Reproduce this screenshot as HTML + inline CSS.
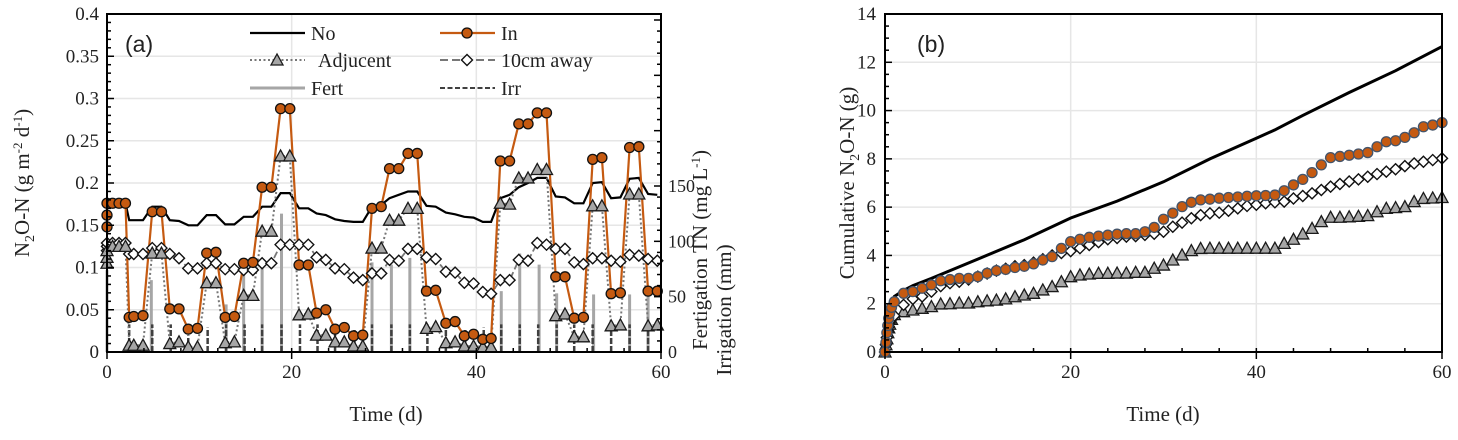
<!DOCTYPE html>
<html><head><meta charset="utf-8"><style>
html,body{margin:0;padding:0;background:#fff;}
svg{display:block;}
text{font-family:"Liberation Serif",serif;fill:#222;}
.ar{font-family:"Liberation Sans",sans-serif;}
</style></head><body>
<svg id="c" width="1458" height="440" viewBox="0 0 1458 440" xmlns="http://www.w3.org/2000/svg"></svg>
<script>
// ---------- Panel (a) data ----------
const aDays=[0,0,0,0.6,1.3,2.0,2.4,2.9,3.9,4.9,5.9,6.8,7.8,8.8,9.8,10.8,11.8,12.8,13.8,14.8,15.8,16.8,17.8,18.8,19.8,20.8,21.8,22.7,23.7,24.7,25.7,26.7,27.7,28.7,29.7,30.6,31.6,32.6,33.6,34.6,35.6,36.7,37.7,38.7,39.7,40.7,41.6,42.6,43.6,44.6,45.6,46.6,47.6,48.6,49.6,50.6,51.6,52.6,53.6,54.6,55.6,56.6,57.6,58.6,59.6];
const aNo=[0.176,0.176,0.176,0.176,0.176,0.176,0.156,0.156,0.156,0.172,0.172,0.156,0.155,0.15,0.15,0.162,0.162,0.151,0.151,0.16,0.16,0.172,0.172,0.188,0.188,0.17,0.17,0.164,0.162,0.157,0.155,0.154,0.154,0.172,0.174,0.182,0.186,0.19,0.19,0.173,0.172,0.165,0.163,0.16,0.159,0.154,0.154,0.182,0.186,0.195,0.2,0.206,0.206,0.184,0.183,0.176,0.176,0.2,0.201,0.182,0.183,0.205,0.206,0.187,0.186];
const aIn=[0.148,0.162,0.176,0.176,0.176,0.176,0.041,0.042,0.043,0.166,0.166,0.051,0.051,0.027,0.028,0.117,0.118,0.041,0.042,0.105,0.106,0.195,0.195,0.288,0.288,0.103,0.103,0.046,0.05,0.027,0.029,0.019,0.02,0.17,0.172,0.217,0.217,0.235,0.235,0.072,0.073,0.034,0.036,0.019,0.021,0.015,0.016,0.226,0.226,0.27,0.27,0.283,0.283,0.089,0.089,0.04,0.041,0.228,0.23,0.069,0.07,0.242,0.243,0.072,0.072];
const aAdj=[0.105,0.112,0.12,0.125,0.125,0.125,0.008,0.008,0.008,0.117,0.117,0.01,0.012,0.006,0.006,0.082,0.082,0.011,0.012,0.067,0.067,0.143,0.143,0.232,0.232,0.044,0.045,0.02,0.02,0.012,0.012,0.007,0.007,0.123,0.123,0.156,0.156,0.17,0.17,0.028,0.03,0.011,0.012,0.007,0.007,0.006,0.006,0.176,0.175,0.206,0.206,0.216,0.216,0.043,0.045,0.018,0.018,0.173,0.173,0.031,0.032,0.187,0.187,0.031,0.032];
const aAway=[0.12,0.125,0.129,0.129,0.129,0.129,0.116,0.116,0.116,0.123,0.123,0.116,0.111,0.099,0.099,0.105,0.105,0.098,0.098,0.097,0.097,0.105,0.105,0.127,0.127,0.127,0.127,0.112,0.109,0.099,0.098,0.088,0.085,0.093,0.093,0.109,0.108,0.122,0.122,0.112,0.11,0.095,0.094,0.082,0.081,0.071,0.069,0.085,0.085,0.109,0.108,0.129,0.127,0.122,0.122,0.106,0.104,0.111,0.111,0.108,0.107,0.115,0.114,0.11,0.108];
const fertDays=[0,4.8,12.9,14.8,16.8,18.9,28.7,30.8,32.8,42.7,44.7,46.8,48.7,52.7,56.6,58.6];
const fertVals=[74,65,43,81,81,125,81,79,85,55,89,79,53,52,52,52];
const irrDays=[2.4,4.9,6.9,8.8,10.9,12.9,14.9,16.8,18.9,20.9,22.8,24.7,26.8,28.7,30.8,32.8,34.7,36.7,38.8,40.8,42.7,44.7,46.7,48.7,50.6,52.6,54.6,56.6,58.6];
const irrVals=[25,25,25,15,22,25,25,25,25,25,25,25,20,25,25,25,25,25,20,22,25,25,25,25,25,25,25,25,25];
const aYTicks=["0","0.05","0.1","0.15","0.2","0.25","0.3","0.35","0.4"];
const aRTicks=["0","50","100","150"];
const xTicks=["0","20","40","60"];
// ---------- Panel (b) data ----------
const bNoDays=[0,0.25,0.5,1,2,3,5,10,15,20,25,30,35,40,42,45,50,55,60];
const bNo=[0,1.2,1.8,2.3,2.55,2.75,3.05,3.85,4.65,5.55,6.25,7.05,8.0,8.85,9.2,9.8,10.75,11.65,12.65];
const bDays=[0,0.1,0.2,0.3,0.4,0.5,0.7,1,2,3,4,5,6,7,8,9,10,11,12,13,14,15,16,17,18,19,20,21,22,23,24,25,26,27,28,29,30,31,32,33,34,35,36,37,38,39,40,41,42,43,44,45,46,47,48,49,50,51,52,53,54,55,56,57,58,59,60];
const bIn=[0,0.4,0.8,1.1,1.4,1.6,1.85,2.08,2.43,2.5,2.64,2.78,2.95,3.0,3.05,3.05,3.12,3.26,3.37,3.42,3.5,3.55,3.65,3.81,3.95,4.29,4.57,4.67,4.75,4.8,4.84,4.88,4.9,4.9,4.98,5.16,5.5,5.75,6.02,6.2,6.3,6.33,6.37,6.4,6.42,6.45,6.47,6.48,6.5,6.68,6.92,7.15,7.43,7.75,8.05,8.1,8.15,8.2,8.26,8.5,8.71,8.75,8.89,9.08,9.33,9.4,9.5];
const bAdj=[0,0.3,0.55,0.8,1.0,1.15,1.35,1.55,1.67,1.74,1.81,1.88,1.99,2.0,2.03,2.03,2.08,2.12,2.15,2.2,2.29,2.36,2.43,2.57,2.71,2.91,3.12,3.19,3.23,3.26,3.26,3.27,3.27,3.3,3.3,3.47,3.6,3.81,4.02,4.2,4.29,4.3,4.3,4.3,4.3,4.3,4.3,4.3,4.3,4.5,4.67,4.89,5.12,5.4,5.58,5.58,5.6,5.62,5.65,5.81,5.95,5.98,6.02,6.23,6.36,6.38,6.4];
const bAway=[0,0.3,0.6,0.85,1.05,1.2,1.35,1.5,1.95,2.2,2.3,2.5,2.73,2.85,2.91,3.0,3.12,3.25,3.37,3.45,3.55,3.6,3.7,3.84,4.0,4.1,4.18,4.3,4.43,4.55,4.67,4.72,4.78,4.8,4.85,4.9,4.98,5.19,5.36,5.54,5.67,5.74,5.77,5.85,5.95,6.05,6.1,6.16,6.2,6.23,6.36,6.46,6.57,6.71,6.85,6.96,7.06,7.15,7.26,7.37,7.47,7.57,7.7,7.81,7.88,7.95,8.02];
const bYTicks=["0","2","4","6","8","10","12","14"];

const NS="http://www.w3.org/2000/svg";
const svg=document.getElementById('c');
function mk(tag,attrs,parent){const e=document.createElementNS(NS,tag);for(const k in attrs)e.setAttribute(k,attrs[k]);(parent||svg).appendChild(e);return e;}

const AL=107,AR=661,T=14,B=352,BL=885,BR=1442;
const ax=d=>AL+d/60*(AR-AL);
const ay=v=>B-v/0.4*(B-T);
const ayR=v=>B-v*(166/150);
const bx=d=>BL+d/60*(BR-BL);
const by=v=>B-v/14*(B-T);

function grid(g,L,R,xs,ys){
  ys.forEach(y=>{const l=mk('line',{x1:L,x2:R,y1:y,y2:y,stroke:'#e6e6e6','stroke-width':1.5},g);
    
    });
  xs.forEach(x=>{const l=mk('line',{x1:x,x2:x,y1:T,y2:B,stroke:'#e6e6e6','stroke-width':1.5},g);
    
    });
}
function tri(g,x,y){return mk('polygon',{points:`${x},${y-6} ${x-6},${y+5} ${x+6},${y+5}`,fill:'#a6a6a6',stroke:'#1a1a1a','stroke-width':1.3},g);}
function dia(g,x,y){return mk('polygon',{points:`${x},${y-5.5} ${x+5.5},${y} ${x},${y+5.5} ${x-5.5},${y}`,fill:'#fff',stroke:'#111','stroke-width':1.4},g);}
function circ(g,x,y,st){return mk('circle',{cx:x,cy:y,r:5,fill:'#c55a11',stroke:st||'#111','stroke-width':1.3},g);}
function pts(xs,ys,fx,fy){return xs.map((d,i)=>fx(d).toFixed(1)+','+fy(ys[i]).toFixed(1)).join(' ');}

// ===== Panel A =====
const gA=mk('g',{});


grid(gA,AL,AR,[ax(20),ax(40)],aYTicks.map((t,i)=>ay(i*0.05)).slice(1));
fertDays.forEach((d,i)=>{const l=mk('line',{x1:ax(d),x2:ax(d),y1:B,y2:ayR(fertVals[i]),stroke:'#a6a6a6','stroke-width':3},gA);
  
  });
irrDays.forEach((d,i)=>{const l=mk('line',{x1:ax(d),x2:ax(d),y1:B,y2:ayR(irrVals[i]),stroke:'#404040','stroke-width':2.5,'stroke-dasharray':'6,2'},gA);
  
  });
let pl=mk('polyline',{points:pts(aDays,aNo,ax,ay),fill:'none',stroke:'#000','stroke-width':2.2},gA);


pl=mk('polyline',{points:pts(aDays,aAway,ax,ay),fill:'none',stroke:'#777','stroke-width':1.8,'stroke-dasharray':'7,3'},gA);


pl=mk('polyline',{points:pts(aDays,aAdj,ax,ay),fill:'none',stroke:'#777','stroke-width':2,'stroke-dasharray':'2,2.5'},gA);


pl=mk('polyline',{points:pts(aDays,aIn,ax,ay),fill:'none',stroke:'#c55a11','stroke-width':2.2},gA);


aDays.forEach((d,i)=>{const m=dia(gA,ax(d),ay(aAway[i]));
  
  });
aDays.forEach((d,i)=>{const m=tri(gA,ax(d),ay(aAdj[i]));
  
  });
aDays.forEach((d,i)=>{const m=circ(gA,ax(d),ay(aIn[i]));
  
  });
let ab=mk('rect',{x:AL,y:T,width:AR-AL,height:B-T,fill:'none',stroke:'#000','stroke-width':2},gA);


for(let i=0;i<=40;i++){const y=ay(i*0.01);const len=i%5==0?7:4;mk('line',{x1:AL,x2:AL+len,y1:y,y2:y,stroke:'#000','stroke-width':1.5},gA);}
aYTicks.forEach((t,i)=>{const e=mk('text',{x:AL-8,y:ay(i*0.05)+6,'text-anchor':'end','font-size':19},gA);e.textContent=t;
  
  });
for(let v=0;v<=300;v+=10){const y=ayR(v);if(y<T)break;const len=v%50==0?7:4;mk('line',{x1:AR,x2:AR-len,y1:y,y2:y,stroke:'#000','stroke-width':1.5},gA);}
aRTicks.forEach((t,i)=>{const e=mk('text',{x:AR+7,y:ayR(i*50)+6,'text-anchor':'start','font-size':18},gA);e.textContent=t;
  
  });
for(let d=0;d<=60;d+=4){mk('line',{x1:ax(d),x2:ax(d),y1:B,y2:B-4,stroke:'#000','stroke-width':1.5},gA);}
xTicks.forEach((t,i)=>{const x=ax(i*20);mk('line',{x1:x,x2:x,y1:B,y2:B+7,stroke:'#000','stroke-width':1.5},gA);
  const e=mk('text',{x:x,y:B+26,'text-anchor':'middle','font-size':19},gA);e.textContent=t;
  
  });
</script>
<script>
(function(){
const svg=document.getElementById('c');const NS="http://www.w3.org/2000/svg";
function mk(tag,attrs){const e=document.createElementNS(NS,tag);for(const k in attrs)e.setAttribute(k,attrs[k]);svg.appendChild(e);return e;}
let t=mk('text',{x:386,y:421,'text-anchor':'middle','font-size':21});t.textContent='Time (d)';


t=mk('text',{x:1163,y:421,'text-anchor':'middle','font-size':21});t.textContent='Time (d)';


t=mk('text',{transform:'translate(29,183) rotate(-90)','text-anchor':'middle','font-size':21});
t.innerHTML='N<tspan font-size="14" dy="5">2</tspan><tspan dy="-5">O-N (g m</tspan><tspan font-size="13" dy="-7">-2</tspan><tspan dy="7"> d</tspan><tspan font-size="13" dy="-7">-1</tspan><tspan dy="7">)</tspan>';


t=mk('text',{transform:'translate(707,250) rotate(-90)','text-anchor':'middle','font-size':21});
t.innerHTML='Fertigation TN (mg L<tspan font-size="13" dy="-7">-1</tspan><tspan dy="7">)</tspan>';


t=mk('text',{transform:'translate(731,310) rotate(-90)','text-anchor':'middle','font-size':21});
t.textContent='Irrigation (mm)';


t=mk('text',{x:125,y:52,'font-size':23,class:'ar'});t.textContent='(a)';


t=mk('text',{x:917,y:52,'font-size':23,class:'ar'});t.textContent='(b)';


const lg=document.createElementNS(NS,'g');svg.appendChild(lg);


function L(tag,a){const e=document.createElementNS(NS,tag);for(const k in a)e.setAttribute(k,a[k]);lg.appendChild(e);return e;}
const r1=33,r2=60,r3=88;
L('line',{x1:250,x2:305,y1:r1,y2:r1,stroke:'#000','stroke-width':2.2});
let e=L('text',{x:311,y:r1+7,'font-size':20});e.textContent='No';


L('line',{x1:440,x2:495,y1:r1,y2:r1,stroke:'#c55a11','stroke-width':2.2});
L('circle',{cx:467,cy:r1,r:5,fill:'#c55a11',stroke:'#111','stroke-width':1.3});
e=L('text',{x:501,y:r1+7,'font-size':20});e.textContent='In';


L('line',{x1:250,x2:305,y1:r2,y2:r2,stroke:'#777','stroke-width':2,'stroke-dasharray':'2,2.5'});
L('polygon',{points:`277,${r2-6} 271,${r2+5} 283,${r2+5}`,fill:'#a6a6a6',stroke:'#1a1a1a','stroke-width':1.3});
e=L('text',{x:318,y:r2+7,'font-size':20});e.textContent='Adjucent';


L('line',{x1:440,x2:495,y1:r2,y2:r2,stroke:'#777','stroke-width':2,'stroke-dasharray':'8,4'});
L('polygon',{points:`467,${r2-5.5} 472.5,${r2} 467,${r2+5.5} 461.5,${r2}`,fill:'#fff',stroke:'#111','stroke-width':1.4});
e=L('text',{x:501,y:r2+7,'font-size':20});e.textContent='10cm away';


L('line',{x1:250,x2:305,y1:r3,y2:r3,stroke:'#a6a6a6','stroke-width':3});
e=L('text',{x:311,y:r3+7,'font-size':20});e.textContent='Fert';


L('line',{x1:440,x2:495,y1:r3,y2:r3,stroke:'#404040','stroke-width':2,'stroke-dasharray':'5,2.5'});
e=L('text',{x:501,y:r3+7,'font-size':20});e.textContent='Irr';


})();
</script>
<script>
const gB=mk('g',{});


grid(gB,BL,BR,[bx(20),bx(40)],bYTicks.map((t,i)=>by(i*2)).slice(1));
let p2=mk('polyline',{points:pts(bNoDays,bNo,bx,by),fill:'none',stroke:'#000','stroke-width':3},gB);


bDays.forEach((d,i)=>{const m=tri(gB,bx(d),by(bAdj[i]));
  
  });
bDays.forEach((d,i)=>{const m=dia(gB,bx(d),by(bAway[i]));
  
  });
bDays.forEach((d,i)=>{const m=circ(gB,bx(d),by(bIn[i]),'#44546a');
  
  });
let bb=mk('rect',{x:BL,y:T,width:BR-BL,height:B-T,fill:'none',stroke:'#000','stroke-width':2},gB);


for(let i=0;i<=28;i++){const y=by(i*0.5);const len=i%4==0?7:4;mk('line',{x1:BL,x2:BL+len,y1:y,y2:y,stroke:'#000','stroke-width':1.5},gB);}
bYTicks.forEach((t,i)=>{const e=mk('text',{x:BL-9,y:by(i*2)+6,'text-anchor':'end','font-size':19},gB);e.textContent=t;
  
  });
for(let d=0;d<=60;d+=4){mk('line',{x1:bx(d),x2:bx(d),y1:B,y2:B-4,stroke:'#000','stroke-width':1.5},gB);}
xTicks.forEach((t,i)=>{const x=bx(i*20);mk('line',{x1:x,x2:x,y1:B,y2:B+7,stroke:'#000','stroke-width':1.5},gB);
  const e=mk('text',{x:x,y:B+26,'text-anchor':'middle','font-size':19},gB);e.textContent=t;
  
  });
let yt=mk('text',{transform:'translate(854,183) rotate(-90)','text-anchor':'middle','font-size':21});
yt.innerHTML='Cumulative N<tspan font-size="14" dy="5">2</tspan><tspan dy="-5">O-N (g)</tspan>';


</script>
</body></html>
